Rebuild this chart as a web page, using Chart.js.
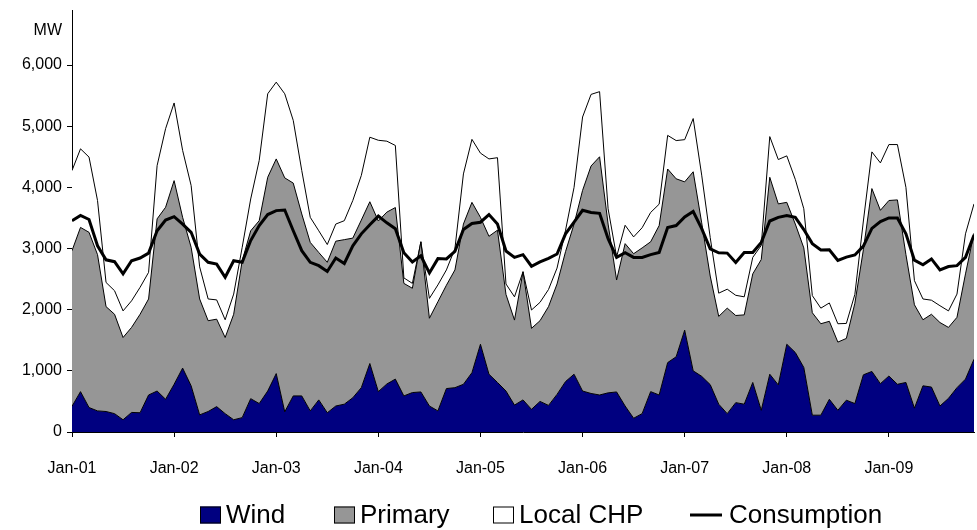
<!DOCTYPE html>
<html>
<head>
<meta charset="utf-8">
<script src="https://cdn.jsdelivr.net/npm/chart.js@4.4.1/dist/chart.umd.min.js"></script>
<style>
html,body{margin:0;padding:0;background:#fff;overflow:hidden;}
#c{display:block;}
</style>
</head>
<body>
<canvas id="c" width="977" height="530" style="width:977px;height:530px"></canvas>
<script>
// ---- data (MW), monthly Jan-01 .. Nov-09 ----
const months = [
"Jan-01","Feb-01","Mar-01","Apr-01","May-01","Jun-01","Jul-01","Aug-01","Sep-01","Oct-01","Nov-01","Dec-01",
"Jan-02","Feb-02","Mar-02","Apr-02","May-02","Jun-02","Jul-02","Aug-02","Sep-02","Oct-02","Nov-02","Dec-02",
"Jan-03","Feb-03","Mar-03","Apr-03","May-03","Jun-03","Jul-03","Aug-03","Sep-03","Oct-03","Nov-03","Dec-03",
"Jan-04","Feb-04","Mar-04","Apr-04","May-04","Jun-04","Jul-04","Aug-04","Sep-04","Oct-04","Nov-04","Dec-04",
"Jan-05","Feb-05","Mar-05","Apr-05","May-05","Jun-05","Jul-05","Aug-05","Sep-05","Oct-05","Nov-05","Dec-05",
"Jan-06","Feb-06","Mar-06","Apr-06","May-06","Jun-06","Jul-06","Aug-06","Sep-06","Oct-06","Nov-06","Dec-06",
"Jan-07","Feb-07","Mar-07","Apr-07","May-07","Jun-07","Jul-07","Aug-07","Sep-07","Oct-07","Nov-07","Dec-07",
"Jan-08","Feb-08","Mar-08","Apr-08","May-08","Jun-08","Jul-08","Aug-08","Sep-08","Oct-08","Nov-08","Dec-08",
"Jan-09","Feb-09","Mar-09","Apr-09","May-09","Jun-09","Jul-09","Aug-09","Sep-09","Oct-09","Nov-09"
];

// Wind production
const wind = [
420,660,400,345,335,300,200,320,315,605,670,535,
780,1045,755,280,335,415,300,200,235,545,465,670,
955,330,590,590,345,525,315,425,455,560,725,1120,
660,785,865,590,645,655,425,345,710,725,780,970,
1435,945,810,670,440,525,370,500,435,615,825,945,
670,630,605,640,655,425,225,300,660,605,1135,1230,
1665,1000,910,775,455,300,480,455,810,355,945,770,
1435,1300,1055,275,275,535,355,520,465,935,990,790,
915,780,810,390,755,735,425,550,725,865,1190
];

// Top of the Primary band (Wind + Primary)
const primaryTop = [
2965,3345,3265,2900,2050,1925,1545,1710,1925,2175,3485,3675,
4110,3510,3020,2175,1820,1845,1545,1925,2800,3290,3455,4165,
4465,4155,4070,3565,3100,2935,2775,3120,3145,3170,3465,3765,
3450,3595,3670,2430,2350,3110,1860,2130,2400,2650,3400,3755,
3510,3200,3300,2250,1830,2620,1695,1820,2050,2420,2950,3400,
3950,4350,4500,3400,2485,3080,2915,3010,3110,3375,4300,4140,
4090,4255,3420,2550,1890,2025,1905,1915,2585,2820,4165,3730,
3755,3400,3010,1950,1770,1810,1470,1530,2105,2980,3980,3625,
3785,3795,2900,2080,1835,1925,1790,1710,1875,2585,3250
];

// Top of the Local CHP band (Wind + Primary + Local CHP)
const chpTop = [
4275,4630,4495,3785,2445,2310,1980,2145,2365,2610,4355,4960,
5380,4605,4030,2700,2175,2160,1835,2255,3020,3810,4440,5530,
5720,5530,5095,4275,3510,3290,3065,3400,3455,3785,4195,4820,
4770,4755,4685,2520,2430,3110,2185,2405,2650,3000,4220,4785,
4560,4465,4485,2420,2210,2620,1995,2120,2330,2680,3300,4000,
5150,5520,5565,3650,2865,3380,3190,3340,3590,3725,4850,4765,
4780,5125,4200,3180,2270,2335,2235,2210,2855,3050,4830,4455,
4515,4130,3650,2230,2025,2110,1770,1775,2250,3450,4580,4400,
4700,4700,4000,2475,2175,2155,2065,1980,2255,3240,3730
];

// Consumption
const consumption = [
3455,3540,3475,3045,2815,2785,2585,2800,2845,2925,3290,3465,
3520,3400,3265,2910,2775,2745,2530,2800,2775,3130,3375,3555,
3620,3630,3290,2965,2775,2720,2625,2845,2755,3045,3240,3390,
3530,3420,3325,2930,2780,2880,2600,2835,2830,2955,3310,3410,
3430,3555,3400,2960,2855,2900,2710,2780,2840,2910,3240,3430,
3625,3590,3575,3160,2855,2930,2855,2855,2900,2935,3345,3375,
3515,3605,3325,2995,2930,2925,2770,2935,2935,3100,3450,3510,
3540,3510,3310,3080,2975,2980,2805,2860,2895,3040,3330,3440,
3500,3500,3240,2810,2735,2830,2650,2705,2720,2855,3220
];

const yTicks = [0,1000,2000,3000,4000,5000,6000];
const xTickIdx = [0,12,24,36,48,60,72,84,96];
const seriesNames = ["Wind","Primary","Local CHP","Consumption"];
const unitLabel = "MW";

// ---- chart ----
const FONT = 'Arial, "Liberation Sans", sans-serif';
Chart.defaults.font.family = FONT;
Chart.defaults.color = '#000';

const pts = arr => arr.map((v, i) => ({x: i, y: v}));

const extras = {
  id: 'extras',
  afterDraw(chart) {
    const ctx = chart.ctx;
    const ys = chart.scales.y;
    const area = chart.chartArea;
    ctx.save();
    // unit label
    ctx.fillStyle = '#000';
    ctx.font = '16px ' + FONT;
    ctx.textAlign = 'right';
    ctx.textBaseline = 'middle';
    ctx.fillText(unitLabel, area.left - 10, ys.getPixelForValue(6570));
    // legend
    const starts = [200, 334, 493, 690];
    const ly = 515;
    ctx.font = '26px ' + FONT;
    ctx.textAlign = 'left';
    chart.data.datasets.forEach((ds, i) => {
      const x0 = starts[i];
      let tx;
      if (ds.fill === false) {
        ctx.strokeStyle = '#000';
        ctx.lineWidth = 3;
        ctx.beginPath();
        ctx.moveTo(x0, ly);
        ctx.lineTo(x0 + 32, ly);
        ctx.stroke();
        tx = x0 + 39;
      } else {
        ctx.fillStyle = ds.backgroundColor;
        ctx.fillRect(x0, ly - 8.5, 21, 17);
        ctx.strokeStyle = '#000';
        ctx.lineWidth = 1;
        ctx.strokeRect(x0 + 0.5, ly - 8, 20, 16);
        tx = x0 + 26;
      }
      ctx.fillStyle = '#000';
      ctx.fillText(ds.label, tx, ly + 1);
    });
    ctx.restore();
  }
};

new Chart(document.getElementById('c'), {
  type: 'line',
  data: {
    datasets: [
      { label: seriesNames[0], data: pts(wind), fill: 'origin',
        backgroundColor: '#000080', borderColor: '#000', borderWidth: 1 },
      { label: seriesNames[1], data: pts(primaryTop), fill: '-1',
        backgroundColor: '#969696', borderColor: '#000', borderWidth: 1 },
      { label: seriesNames[2], data: pts(chpTop), fill: '-1',
        backgroundColor: '#ffffff', borderColor: '#000', borderWidth: 1 },
      { label: seriesNames[3], data: pts(consumption), fill: false,
        borderColor: '#000', borderWidth: 3, order: -1 }
    ]
  },
  options: {
    responsive: false,
    animation: false,
    devicePixelRatio: 1,
    elements: { point: { radius: 0 }, line: { tension: 0 } },
    layout: { padding: { top: 10, right: 3, bottom: 0, left: 0 } },
    plugins: { legend: { display: false }, tooltip: { enabled: false } },
    scales: {
      x: {
        type: 'linear', min: 0, max: 106,
        afterBuildTicks: s => { s.ticks = xTickIdx.map(v => ({ value: v })); },
        afterFit: s => { s.height = 98; s.paddingLeft = 0; s.paddingRight = 0; },
        grid: { display: true, drawOnChartArea: false, drawTicks: true, tickLength: 5, color: '#000' },
        border: { display: true, color: '#000', width: 1 },
        ticks: { autoSkip: false, maxRotation: 0, padding: 22, font: { size: 16 }, color: '#000',
                 callback: v => months[v] }
      },
      y: {
        type: 'linear', min: 0, max: 6900,
        afterBuildTicks: s => { s.ticks = yTicks.map(v => ({ value: v })); },
        afterFit: s => { s.width = 72; s.paddingTop = 0; s.paddingBottom = 0; },
        grid: { display: true, drawOnChartArea: false, drawTicks: true, tickLength: 5, color: '#000' },
        border: { display: true, color: '#000', width: 1 },
        ticks: { padding: 5, font: { size: 16 }, color: '#000',
                 callback: v => v.toLocaleString('en-US') }
      }
    }
  },
  plugins: [extras]
});
</script>
</body>
</html>
